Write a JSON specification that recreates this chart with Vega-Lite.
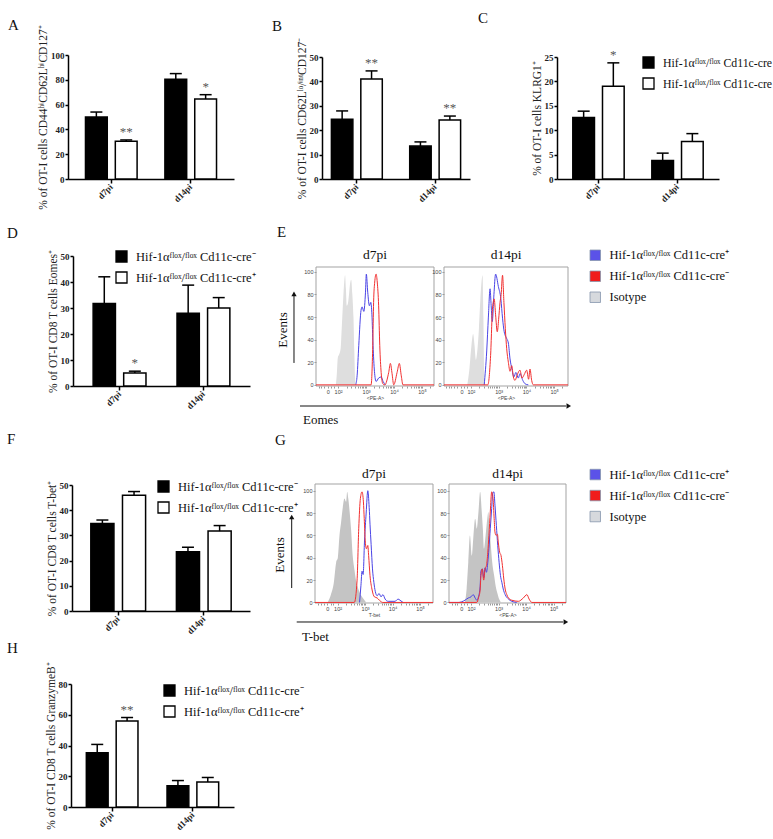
{
  "$schema": "https://vega.github.io/schema/vega-lite/v6.json",
  "background": "white",
  "padding": {"left": 7, "top": 10, "right": 0, "bottom": 0},
  "columns": 4,
  "align": "none",
  "bounds": "flush",
  "spacing": {"row": 73, "column": 0},
  "config": {
    "font": "Liberation Serif",
    "view": {"stroke": null},
    "axis": {"grid": false, "labelOverlap": false, "domainColor": "black", "tickColor": "black", "labelColor": "#222", "titleColor": "#222", "labelFont": "Liberation Serif", "titleFont": "Liberation Serif", "titleFontWeight": "normal"},
    "axisBand": {"domainWidth": 1.5, "tickWidth": 1.5, "tickSize": 4, "labelAngle": -45, "labelAlign": "right", "labelBaseline": "middle", "labelFontSize": 9, "labelFontWeight": "bold", "labelPadding": 2},
    "axisQuantitative": {"domainWidth": 1.5, "tickWidth": 1.5, "tickSize": 3, "labelFontSize": 9, "labelFontWeight": "bold", "labelPadding": 1, "titleFontSize": 11.5, "titlePadding": 2, "format": "d"},
    "legend": {"orient": "none", "padding": 0, "symbolType": "square", "symbolSize": 121, "labelFont": "Liberation Serif", "labelFontSize": 12.5, "labelColor": "#111", "labelOffset": 8, "rowPadding": 4, "labelLimit": 0},
    "title": {"font": "Liberation Serif", "fontSize": 15, "fontWeight": "normal", "color": "#111", "anchor": "start", "frame": "group", "offset": 0},
    "text": {"font": "Liberation Serif"}
  },
  "resolve": {
    "scale": {"color": "independent", "fill": "independent", "stroke": "independent", "xOffset": "independent"},
    "legend": {"color": "independent", "fill": "independent", "stroke": "independent"}
  },
  "datasets": {
    "bars": [
      {"panel": "A", "day": "d7pi", "group": "cre-", "value": 50, "hi": 54, "sig": ""},
      {"panel": "A", "day": "d7pi", "group": "cre+", "value": 30.5, "hi": 31.5, "sig": "**"},
      {"panel": "A", "day": "d14pi", "group": "cre-", "value": 80.5, "hi": 85, "sig": ""},
      {"panel": "A", "day": "d14pi", "group": "cre+", "value": 64.5, "hi": 68, "sig": "*"},
      {"panel": "B", "day": "d7pi", "group": "cre-", "value": 24.5, "hi": 27.9, "sig": ""},
      {"panel": "B", "day": "d7pi", "group": "cre+", "value": 41, "hi": 44.3, "sig": "**"},
      {"panel": "B", "day": "d14pi", "group": "cre-", "value": 13.5, "hi": 15.2, "sig": ""},
      {"panel": "B", "day": "d14pi", "group": "cre+", "value": 24.2, "hi": 25.8, "sig": "**"},
      {"panel": "C", "day": "d7pi", "group": "cre-", "value": 12.6, "hi": 13.9, "sig": ""},
      {"panel": "C", "day": "d7pi", "group": "cre+", "value": 19, "hi": 23.8, "sig": "*"},
      {"panel": "C", "day": "d14pi", "group": "cre-", "value": 3.8, "hi": 5.3, "sig": ""},
      {"panel": "C", "day": "d14pi", "group": "cre+", "value": 7.7, "hi": 9.3, "sig": ""},
      {"panel": "D", "day": "d7pi", "group": "cre-", "value": 31.7, "hi": 42, "sig": ""},
      {"panel": "D", "day": "d7pi", "group": "cre+", "value": 5, "hi": 5.7, "sig": "*"},
      {"panel": "D", "day": "d14pi", "group": "cre-", "value": 28, "hi": 38.8, "sig": ""},
      {"panel": "D", "day": "d14pi", "group": "cre+", "value": 30, "hi": 34, "sig": ""},
      {"panel": "F", "day": "d7pi", "group": "cre-", "value": 34.7, "hi": 36.1, "sig": ""},
      {"panel": "F", "day": "d7pi", "group": "cre+", "value": 45.9, "hi": 47.4, "sig": ""},
      {"panel": "F", "day": "d14pi", "group": "cre-", "value": 23.5, "hi": 25.3, "sig": ""},
      {"panel": "F", "day": "d14pi", "group": "cre+", "value": 31.7, "hi": 33.9, "sig": ""},
      {"panel": "H", "day": "d7pi", "group": "cre-", "value": 35.3, "hi": 40.7, "sig": ""},
      {"panel": "H", "day": "d7pi", "group": "cre+", "value": 56, "hi": 58.2, "sig": "**"},
      {"panel": "H", "day": "d14pi", "group": "cre-", "value": 13.9, "hi": 17.2, "sig": ""},
      {"panel": "H", "day": "d14pi", "group": "cre+", "value": 16.3, "hi": 19.2, "sig": ""}
    ],
    "flow": [
      {"panel": "E7", "group": "iso", "u": 1.92, "y": 0}, {"panel": "E7", "group": "iso", "u": 1.95, "y": 8}, {"panel": "E7", "group": "iso", "u": 1.99, "y": 24}, {"panel": "E7", "group": "iso", "u": 2.04, "y": 27}, {"panel": "E7", "group": "iso", "u": 2.09, "y": 32}, {"panel": "E7", "group": "iso", "u": 2.13, "y": 50}, {"panel": "E7", "group": "iso", "u": 2.17, "y": 70}, {"panel": "E7", "group": "iso", "u": 2.21, "y": 88}, {"panel": "E7", "group": "iso", "u": 2.25, "y": 97}, {"panel": "E7", "group": "iso", "u": 2.28, "y": 85}, {"panel": "E7", "group": "iso", "u": 2.31, "y": 70}, {"panel": "E7", "group": "iso", "u": 2.35, "y": 72}, {"panel": "E7", "group": "iso", "u": 2.39, "y": 80}, {"panel": "E7", "group": "iso", "u": 2.43, "y": 90}, {"panel": "E7", "group": "iso", "u": 2.47, "y": 93}, {"panel": "E7", "group": "iso", "u": 2.51, "y": 80}, {"panel": "E7", "group": "iso", "u": 2.55, "y": 60}, {"panel": "E7", "group": "iso", "u": 2.58, "y": 30}, {"panel": "E7", "group": "iso", "u": 2.61, "y": 5}, {"panel": "E7", "group": "iso", "u": 2.63, "y": 0},
      {"panel": "E7", "group": "cre+", "u": 2.63, "y": 0}, {"panel": "E7", "group": "cre+", "u": 2.68, "y": 8}, {"panel": "E7", "group": "cre+", "u": 2.74, "y": 35}, {"panel": "E7", "group": "cre+", "u": 2.82, "y": 66}, {"panel": "E7", "group": "cre+", "u": 2.86, "y": 69}, {"panel": "E7", "group": "cre+", "u": 2.92, "y": 65}, {"panel": "E7", "group": "cre+", "u": 2.98, "y": 82}, {"panel": "E7", "group": "cre+", "u": 3.01, "y": 98}, {"panel": "E7", "group": "cre+", "u": 3.06, "y": 82}, {"panel": "E7", "group": "cre+", "u": 3.12, "y": 70}, {"panel": "E7", "group": "cre+", "u": 3.17, "y": 73}, {"panel": "E7", "group": "cre+", "u": 3.21, "y": 62}, {"panel": "E7", "group": "cre+", "u": 3.25, "y": 35}, {"panel": "E7", "group": "cre+", "u": 3.3, "y": 12}, {"panel": "E7", "group": "cre+", "u": 3.36, "y": 3}, {"panel": "E7", "group": "cre+", "u": 3.45, "y": 6}, {"panel": "E7", "group": "cre+", "u": 3.54, "y": 7}, {"panel": "E7", "group": "cre+", "u": 3.61, "y": 3}, {"panel": "E7", "group": "cre+", "u": 3.69, "y": 0},
      {"panel": "E7", "group": "cre-", "u": 1.21, "y": 0}, {"panel": "E7", "group": "cre-", "u": 3.18, "y": 0}, {"panel": "E7", "group": "cre-", "u": 3.24, "y": 35}, {"panel": "E7", "group": "cre-", "u": 3.27, "y": 73}, {"panel": "E7", "group": "cre-", "u": 3.31, "y": 91}, {"panel": "E7", "group": "cre-", "u": 3.36, "y": 98}, {"panel": "E7", "group": "cre-", "u": 3.4, "y": 91}, {"panel": "E7", "group": "cre-", "u": 3.45, "y": 70}, {"panel": "E7", "group": "cre-", "u": 3.49, "y": 35}, {"panel": "E7", "group": "cre-", "u": 3.54, "y": 11}, {"panel": "E7", "group": "cre-", "u": 3.6, "y": 1}, {"panel": "E7", "group": "cre-", "u": 3.67, "y": 0}, {"panel": "E7", "group": "cre-", "u": 3.81, "y": 11}, {"panel": "E7", "group": "cre-", "u": 3.87, "y": 19}, {"panel": "E7", "group": "cre-", "u": 3.93, "y": 10}, {"panel": "E7", "group": "cre-", "u": 3.99, "y": 0}, {"panel": "E7", "group": "cre-", "u": 4.11, "y": 11}, {"panel": "E7", "group": "cre-", "u": 4.19, "y": 19}, {"panel": "E7", "group": "cre-", "u": 4.26, "y": 8}, {"panel": "E7", "group": "cre-", "u": 4.32, "y": 0}, {"panel": "E7", "group": "cre-", "u": 5.43, "y": 0},
      {"panel": "E14", "group": "iso", "u": 1.87, "y": 0}, {"panel": "E14", "group": "iso", "u": 1.95, "y": 15}, {"panel": "E14", "group": "iso", "u": 2.02, "y": 35}, {"panel": "E14", "group": "iso", "u": 2.08, "y": 45}, {"panel": "E14", "group": "iso", "u": 2.13, "y": 35}, {"panel": "E14", "group": "iso", "u": 2.18, "y": 22}, {"panel": "E14", "group": "iso", "u": 2.23, "y": 30}, {"panel": "E14", "group": "iso", "u": 2.29, "y": 50}, {"panel": "E14", "group": "iso", "u": 2.34, "y": 75}, {"panel": "E14", "group": "iso", "u": 2.4, "y": 95}, {"panel": "E14", "group": "iso", "u": 2.42, "y": 97}, {"panel": "E14", "group": "iso", "u": 2.45, "y": 60}, {"panel": "E14", "group": "iso", "u": 2.48, "y": 10}, {"panel": "E14", "group": "iso", "u": 2.51, "y": 0},
      {"panel": "E14", "group": "cre+", "u": 2.48, "y": 0}, {"panel": "E14", "group": "cre+", "u": 2.57, "y": 30}, {"panel": "E14", "group": "cre+", "u": 2.63, "y": 60}, {"panel": "E14", "group": "cre+", "u": 2.69, "y": 85}, {"panel": "E14", "group": "cre+", "u": 2.73, "y": 70}, {"panel": "E14", "group": "cre+", "u": 2.77, "y": 56}, {"panel": "E14", "group": "cre+", "u": 2.83, "y": 80}, {"panel": "E14", "group": "cre+", "u": 2.89, "y": 98}, {"panel": "E14", "group": "cre+", "u": 2.99, "y": 87}, {"panel": "E14", "group": "cre+", "u": 3.08, "y": 76}, {"panel": "E14", "group": "cre+", "u": 3.14, "y": 59}, {"panel": "E14", "group": "cre+", "u": 3.2, "y": 47}, {"panel": "E14", "group": "cre+", "u": 3.29, "y": 41}, {"panel": "E14", "group": "cre+", "u": 3.35, "y": 37}, {"panel": "E14", "group": "cre+", "u": 3.41, "y": 23}, {"panel": "E14", "group": "cre+", "u": 3.48, "y": 14}, {"panel": "E14", "group": "cre+", "u": 3.55, "y": 7}, {"panel": "E14", "group": "cre+", "u": 3.62, "y": 11}, {"panel": "E14", "group": "cre+", "u": 3.71, "y": 6}, {"panel": "E14", "group": "cre+", "u": 3.77, "y": 10}, {"panel": "E14", "group": "cre+", "u": 3.87, "y": 4}, {"panel": "E14", "group": "cre+", "u": 3.95, "y": 1}, {"panel": "E14", "group": "cre+", "u": 4.07, "y": 0},
      {"panel": "E14", "group": "cre-", "u": 1.03, "y": 0}, {"panel": "E14", "group": "cre-", "u": 2.61, "y": 0}, {"panel": "E14", "group": "cre-", "u": 2.71, "y": 26}, {"panel": "E14", "group": "cre-", "u": 2.78, "y": 68}, {"panel": "E14", "group": "cre-", "u": 2.84, "y": 76}, {"panel": "E14", "group": "cre-", "u": 2.89, "y": 62}, {"panel": "E14", "group": "cre-", "u": 2.95, "y": 47}, {"panel": "E14", "group": "cre-", "u": 3.0, "y": 58}, {"panel": "E14", "group": "cre-", "u": 3.05, "y": 73}, {"panel": "E14", "group": "cre-", "u": 3.09, "y": 80}, {"panel": "E14", "group": "cre-", "u": 3.14, "y": 97}, {"panel": "E14", "group": "cre-", "u": 3.19, "y": 73}, {"panel": "E14", "group": "cre-", "u": 3.24, "y": 50}, {"panel": "E14", "group": "cre-", "u": 3.29, "y": 32}, {"panel": "E14", "group": "cre-", "u": 3.35, "y": 20}, {"panel": "E14", "group": "cre-", "u": 3.41, "y": 12}, {"panel": "E14", "group": "cre-", "u": 3.47, "y": 17}, {"panel": "E14", "group": "cre-", "u": 3.53, "y": 7}, {"panel": "E14", "group": "cre-", "u": 3.59, "y": 4}, {"panel": "E14", "group": "cre-", "u": 3.67, "y": 9}, {"panel": "E14", "group": "cre-", "u": 3.77, "y": 13}, {"panel": "E14", "group": "cre-", "u": 3.84, "y": 6}, {"panel": "E14", "group": "cre-", "u": 3.92, "y": 9}, {"panel": "E14", "group": "cre-", "u": 4.01, "y": 13}, {"panel": "E14", "group": "cre-", "u": 4.08, "y": 5}, {"panel": "E14", "group": "cre-", "u": 4.13, "y": 14}, {"panel": "E14", "group": "cre-", "u": 4.19, "y": 4}, {"panel": "E14", "group": "cre-", "u": 4.25, "y": 0}, {"panel": "E14", "group": "cre-", "u": 5.5, "y": 0},
      {"panel": "G7", "group": "iso", "u": 1.64, "y": 0}, {"panel": "G7", "group": "iso", "u": 1.76, "y": 7}, {"panel": "G7", "group": "iso", "u": 1.86, "y": 17}, {"panel": "G7", "group": "iso", "u": 1.95, "y": 36}, {"panel": "G7", "group": "iso", "u": 2.01, "y": 40}, {"panel": "G7", "group": "iso", "u": 2.07, "y": 60}, {"panel": "G7", "group": "iso", "u": 2.13, "y": 72}, {"panel": "G7", "group": "iso", "u": 2.19, "y": 85}, {"panel": "G7", "group": "iso", "u": 2.25, "y": 93}, {"panel": "G7", "group": "iso", "u": 2.31, "y": 90}, {"panel": "G7", "group": "iso", "u": 2.35, "y": 99}, {"panel": "G7", "group": "iso", "u": 2.39, "y": 93}, {"panel": "G7", "group": "iso", "u": 2.44, "y": 81}, {"panel": "G7", "group": "iso", "u": 2.49, "y": 66}, {"panel": "G7", "group": "iso", "u": 2.55, "y": 42}, {"panel": "G7", "group": "iso", "u": 2.61, "y": 30}, {"panel": "G7", "group": "iso", "u": 2.67, "y": 20}, {"panel": "G7", "group": "iso", "u": 2.73, "y": 14}, {"panel": "G7", "group": "iso", "u": 2.82, "y": 8}, {"panel": "G7", "group": "iso", "u": 2.92, "y": 4}, {"panel": "G7", "group": "iso", "u": 3.04, "y": 0},
      {"panel": "G7", "group": "cre+", "u": 2.8, "y": 0}, {"panel": "G7", "group": "cre+", "u": 2.85, "y": 15}, {"panel": "G7", "group": "cre+", "u": 2.89, "y": 28}, {"panel": "G7", "group": "cre+", "u": 2.93, "y": 25}, {"panel": "G7", "group": "cre+", "u": 2.98, "y": 55}, {"panel": "G7", "group": "cre+", "u": 3.04, "y": 80}, {"panel": "G7", "group": "cre+", "u": 3.1, "y": 100}, {"panel": "G7", "group": "cre+", "u": 3.15, "y": 85}, {"panel": "G7", "group": "cre+", "u": 3.18, "y": 70}, {"panel": "G7", "group": "cre+", "u": 3.22, "y": 52}, {"panel": "G7", "group": "cre+", "u": 3.27, "y": 30}, {"panel": "G7", "group": "cre+", "u": 3.32, "y": 18}, {"panel": "G7", "group": "cre+", "u": 3.37, "y": 10}, {"panel": "G7", "group": "cre+", "u": 3.44, "y": 6}, {"panel": "G7", "group": "cre+", "u": 3.51, "y": 8}, {"panel": "G7", "group": "cre+", "u": 3.58, "y": 5}, {"panel": "G7", "group": "cre+", "u": 3.65, "y": 7}, {"panel": "G7", "group": "cre+", "u": 3.73, "y": 3}, {"panel": "G7", "group": "cre+", "u": 3.84, "y": 1}, {"panel": "G7", "group": "cre+", "u": 4.09, "y": 1}, {"panel": "G7", "group": "cre+", "u": 4.2, "y": 3}, {"panel": "G7", "group": "cre+", "u": 4.27, "y": 2}, {"panel": "G7", "group": "cre+", "u": 4.38, "y": 0},
      {"panel": "G7", "group": "cre-", "u": 1.18, "y": 0}, {"panel": "G7", "group": "cre-", "u": 2.61, "y": 0}, {"panel": "G7", "group": "cre-", "u": 2.71, "y": 20}, {"panel": "G7", "group": "cre-", "u": 2.77, "y": 66}, {"panel": "G7", "group": "cre-", "u": 2.83, "y": 93}, {"panel": "G7", "group": "cre-", "u": 2.89, "y": 99}, {"panel": "G7", "group": "cre-", "u": 2.94, "y": 90}, {"panel": "G7", "group": "cre-", "u": 2.97, "y": 75}, {"panel": "G7", "group": "cre-", "u": 3.01, "y": 54}, {"panel": "G7", "group": "cre-", "u": 3.05, "y": 48}, {"panel": "G7", "group": "cre-", "u": 3.1, "y": 51}, {"panel": "G7", "group": "cre-", "u": 3.13, "y": 42}, {"panel": "G7", "group": "cre-", "u": 3.18, "y": 24}, {"panel": "G7", "group": "cre-", "u": 3.25, "y": 12}, {"panel": "G7", "group": "cre-", "u": 3.34, "y": 5}, {"panel": "G7", "group": "cre-", "u": 3.44, "y": 4}, {"panel": "G7", "group": "cre-", "u": 3.52, "y": 2}, {"panel": "G7", "group": "cre-", "u": 3.64, "y": 0}, {"panel": "G7", "group": "cre-", "u": 5.47, "y": 0},
      {"panel": "G14", "group": "iso", "u": 1.78, "y": 0}, {"panel": "G14", "group": "iso", "u": 1.84, "y": 12}, {"panel": "G14", "group": "iso", "u": 1.9, "y": 36}, {"panel": "G14", "group": "iso", "u": 1.96, "y": 60}, {"panel": "G14", "group": "iso", "u": 2.03, "y": 42}, {"panel": "G14", "group": "iso", "u": 2.08, "y": 57}, {"panel": "G14", "group": "iso", "u": 2.15, "y": 75}, {"panel": "G14", "group": "iso", "u": 2.21, "y": 66}, {"panel": "G14", "group": "iso", "u": 2.27, "y": 81}, {"panel": "G14", "group": "iso", "u": 2.33, "y": 99}, {"panel": "G14", "group": "iso", "u": 2.39, "y": 81}, {"panel": "G14", "group": "iso", "u": 2.43, "y": 66}, {"panel": "G14", "group": "iso", "u": 2.47, "y": 48}, {"panel": "G14", "group": "iso", "u": 2.53, "y": 60}, {"panel": "G14", "group": "iso", "u": 2.59, "y": 75}, {"panel": "G14", "group": "iso", "u": 2.63, "y": 81}, {"panel": "G14", "group": "iso", "u": 2.67, "y": 66}, {"panel": "G14", "group": "iso", "u": 2.72, "y": 51}, {"panel": "G14", "group": "iso", "u": 2.77, "y": 36}, {"panel": "G14", "group": "iso", "u": 2.84, "y": 24}, {"panel": "G14", "group": "iso", "u": 2.9, "y": 14}, {"panel": "G14", "group": "iso", "u": 2.96, "y": 8}, {"panel": "G14", "group": "iso", "u": 3.02, "y": 3}, {"panel": "G14", "group": "iso", "u": 3.09, "y": 0},
      {"panel": "G14", "group": "cre+", "u": 1.2, "y": 0}, {"panel": "G14", "group": "cre+", "u": 1.54, "y": 0}, {"panel": "G14", "group": "cre+", "u": 1.78, "y": 2}, {"panel": "G14", "group": "cre+", "u": 1.9, "y": 4}, {"panel": "G14", "group": "cre+", "u": 2.0, "y": 5}, {"panel": "G14", "group": "cre+", "u": 2.08, "y": 7}, {"panel": "G14", "group": "cre+", "u": 2.15, "y": 4}, {"panel": "G14", "group": "cre+", "u": 2.21, "y": 2}, {"panel": "G14", "group": "cre+", "u": 2.27, "y": 5}, {"panel": "G14", "group": "cre+", "u": 2.33, "y": 14}, {"panel": "G14", "group": "cre+", "u": 2.36, "y": 28}, {"panel": "G14", "group": "cre+", "u": 2.41, "y": 30}, {"panel": "G14", "group": "cre+", "u": 2.46, "y": 22}, {"panel": "G14", "group": "cre+", "u": 2.51, "y": 31}, {"panel": "G14", "group": "cre+", "u": 2.56, "y": 27}, {"panel": "G14", "group": "cre+", "u": 2.61, "y": 36}, {"panel": "G14", "group": "cre+", "u": 2.65, "y": 48}, {"panel": "G14", "group": "cre+", "u": 2.7, "y": 66}, {"panel": "G14", "group": "cre+", "u": 2.75, "y": 84}, {"panel": "G14", "group": "cre+", "u": 2.79, "y": 98}, {"panel": "G14", "group": "cre+", "u": 2.83, "y": 99}, {"panel": "G14", "group": "cre+", "u": 2.87, "y": 87}, {"panel": "G14", "group": "cre+", "u": 2.92, "y": 69}, {"panel": "G14", "group": "cre+", "u": 2.97, "y": 51}, {"panel": "G14", "group": "cre+", "u": 3.02, "y": 36}, {"panel": "G14", "group": "cre+", "u": 3.07, "y": 24}, {"panel": "G14", "group": "cre+", "u": 3.12, "y": 18}, {"panel": "G14", "group": "cre+", "u": 3.17, "y": 12}, {"panel": "G14", "group": "cre+", "u": 3.24, "y": 7}, {"panel": "G14", "group": "cre+", "u": 3.36, "y": 3}, {"panel": "G14", "group": "cre+", "u": 3.48, "y": 1}, {"panel": "G14", "group": "cre+", "u": 3.66, "y": 0},
      {"panel": "G14", "group": "cre-", "u": 1.2, "y": 0}, {"panel": "G14", "group": "cre-", "u": 2.21, "y": 0}, {"panel": "G14", "group": "cre-", "u": 2.27, "y": 4}, {"panel": "G14", "group": "cre-", "u": 2.33, "y": 11}, {"panel": "G14", "group": "cre-", "u": 2.36, "y": 24}, {"panel": "G14", "group": "cre-", "u": 2.41, "y": 30}, {"panel": "G14", "group": "cre-", "u": 2.46, "y": 20}, {"panel": "G14", "group": "cre-", "u": 2.51, "y": 30}, {"panel": "G14", "group": "cre-", "u": 2.56, "y": 33}, {"panel": "G14", "group": "cre-", "u": 2.61, "y": 45}, {"panel": "G14", "group": "cre-", "u": 2.65, "y": 60}, {"panel": "G14", "group": "cre-", "u": 2.7, "y": 81}, {"panel": "G14", "group": "cre-", "u": 2.75, "y": 99}, {"panel": "G14", "group": "cre-", "u": 2.8, "y": 93}, {"panel": "G14", "group": "cre-", "u": 2.84, "y": 75}, {"panel": "G14", "group": "cre-", "u": 2.87, "y": 63}, {"panel": "G14", "group": "cre-", "u": 2.91, "y": 60}, {"panel": "G14", "group": "cre-", "u": 2.96, "y": 61}, {"panel": "G14", "group": "cre-", "u": 2.99, "y": 54}, {"panel": "G14", "group": "cre-", "u": 3.04, "y": 45}, {"panel": "G14", "group": "cre-", "u": 3.09, "y": 42}, {"panel": "G14", "group": "cre-", "u": 3.14, "y": 33}, {"panel": "G14", "group": "cre-", "u": 3.19, "y": 21}, {"panel": "G14", "group": "cre-", "u": 3.24, "y": 12}, {"panel": "G14", "group": "cre-", "u": 3.3, "y": 7}, {"panel": "G14", "group": "cre-", "u": 3.36, "y": 4}, {"panel": "G14", "group": "cre-", "u": 3.48, "y": 2}, {"panel": "G14", "group": "cre-", "u": 3.72, "y": 1}, {"panel": "G14", "group": "cre-", "u": 3.9, "y": 4}, {"panel": "G14", "group": "cre-", "u": 4.03, "y": 7}, {"panel": "G14", "group": "cre-", "u": 4.11, "y": 3}, {"panel": "G14", "group": "cre-", "u": 4.21, "y": 0}, {"panel": "G14", "group": "cre-", "u": 5.45, "y": 0}
    ]
  },
  "concat": [
    {
      "width": 248, "height": 124,
      "title": {"text": "A", "dx": -62, "dy": 12},
      "data": {"name": "bars"},
      "transform": [{"filter": "datum.panel == 'A'"}],
      "encoding": {
        "x": {"field": "day", "type": "nominal", "sort": ["d7pi", "d14pi"], "title": null, "scale": {"range": [-2, 164], "paddingInner": 0.35, "paddingOuter": 0.22}},
        "xOffset": {"field": "group", "type": "nominal", "sort": ["cre-", "cre+"], "scale": {"paddingInner": 0.27, "paddingOuter": 0}}
      },
      "layer": [
        {"mark": {"type": "bar", "stroke": "black", "strokeWidth": 1.5, "opacity": 1},
         "encoding": {
           "y": {"field": "value", "type": "quantitative", "stack": null, "scale": {"domain": [0, 100], "nice": false}, "axis": {"title": "% of OT-I cells CD44ʰⁱCD62LʰⁱCD127⁺", "values": [0, 20, 40, 60, 80, 100], "tickCount": 50, "format": "d", "labelOverlap": false, "offset": 2}},
           "color": {"field": "group", "type": "nominal", "scale": {"domain": ["cre-", "cre+"], "range": ["black", "white"]}, "legend": null}}},
        {"mark": {"type": "rule", "color": "black", "strokeWidth": 1.5},
         "encoding": {"y": {"field": "value", "type": "quantitative", "scale": {"domain": [0, 100], "nice": false}}, "y2": {"field": "hi"}}},
        {"mark": {"type": "tick", "color": "black", "thickness": 1.5, "size": 12, "opacity": 1},
         "encoding": {"y": {"field": "hi", "type": "quantitative", "scale": {"domain": [0, 100], "nice": false}}}},
        {"mark": {"type": "text", "baseline": "bottom", "dy": -1, "fontSize": 13, "color": "#555"},
         "encoding": {"y": {"field": "hi", "type": "quantitative", "scale": {"domain": [0, 100], "nice": false}}, "text": {"field": "sig"}}}
      ]
    },
    {
      "width": 128, "height": 124,
      "title": {"text": "B", "dx": -46, "dy": 0.5},
      "data": {"name": "bars"},
      "transform": [{"filter": "datum.panel == 'B'"}],
      "encoding": {
        "x": {"field": "day", "type": "nominal", "sort": ["d7pi", "d14pi"], "title": null, "scale": {"range": [4, 152], "paddingInner": 0.35, "paddingOuter": 0.12}},
        "xOffset": {"field": "group", "type": "nominal", "sort": ["cre-", "cre+"], "scale": {"paddingInner": 0.27, "paddingOuter": 0}}
      },
      "layer": [
        {"mark": {"type": "bar", "stroke": "black", "strokeWidth": 1.5, "opacity": 1},
         "encoding": {
           "y": {"field": "value", "type": "quantitative", "stack": null, "scale": {"domain": [0, 50], "nice": false, "range": [124, 2]}, "axis": {"title": "% of OT-I cells CD62Lˡᵒ/ⁱⁿᵗCD127⁻", "values": [0, 10, 20, 30, 40, 50], "tickCount": 50, "format": "d", "labelOverlap": false, "offset": -4}},
           "color": {"field": "group", "type": "nominal", "scale": {"domain": ["cre-", "cre+"], "range": ["black", "white"]}, "legend": null}}},
        {"mark": {"type": "rule", "color": "black", "strokeWidth": 1.5},
         "encoding": {"y": {"field": "value", "type": "quantitative", "scale": {"domain": [0, 50], "nice": false, "range": [124, 2]}}, "y2": {"field": "hi"}}},
        {"mark": {"type": "tick", "color": "black", "thickness": 1.5, "size": 12, "opacity": 1},
         "encoding": {"y": {"field": "hi", "type": "quantitative", "scale": {"domain": [0, 50], "nice": false, "range": [124, 2]}}}},
        {"mark": {"type": "text", "baseline": "bottom", "dy": -1, "fontSize": 13, "color": "#555"},
         "encoding": {"y": {"field": "hi", "type": "quantitative", "scale": {"domain": [0, 50], "nice": false, "range": [124, 2]}}, "text": {"field": "sig"}}}
      ]
    },
    {"width": 111, "height": 1, "data": {"values": []}, "mark": "point"},
    {
      "width": 162, "height": 124,
      "title": {"text": "C", "dx": -79, "dy": -19},
      "data": {"name": "bars"},
      "transform": [{"filter": "datum.panel == 'C'"}],
      "encoding": {
        "x": {"field": "day", "type": "nominal", "sort": ["d7pi", "d14pi"], "title": null, "scale": {"paddingInner": 0.35, "paddingOuter": 0.2}},
        "xOffset": {"field": "group", "type": "nominal", "sort": ["cre-", "cre+"], "scale": {"paddingInner": 0.27, "paddingOuter": 0}}
      },
      "layer": [
        {"mark": {"type": "bar", "stroke": "black", "strokeWidth": 1.5, "opacity": 1},
         "encoding": {
           "y": {"field": "value", "type": "quantitative", "stack": null, "scale": {"domain": [0, 25], "nice": false, "range": [124, 2]}, "axis": {"title": "% of OT-I cells KLRG1⁺", "values": [0, 5, 10, 15, 20, 25], "tickCount": 50, "format": "d", "labelOverlap": false}},
           "color": {"field": "group", "type": "nominal", "scale": {"domain": ["cre-", "cre+"], "range": ["black", "white"]},
                     "legend": {"legendX": 85, "legendY": 1, "title": null, "symbolStrokeColor": "black", "symbolStrokeWidth": 1.3, "labelFontSize": 11.8, "labelExpr": "'Hif-1αᶠˡᵒˣ/ᶠˡᵒˣ Cd11c-cre'"}}}},
        {"mark": {"type": "rule", "color": "black", "strokeWidth": 1.5},
         "encoding": {"y": {"field": "value", "type": "quantitative", "scale": {"domain": [0, 25], "nice": false, "range": [124, 2]}}, "y2": {"field": "hi"}}},
        {"mark": {"type": "tick", "color": "black", "thickness": 1.5, "size": 12, "opacity": 1},
         "encoding": {"y": {"field": "hi", "type": "quantitative", "scale": {"domain": [0, 25], "nice": false, "range": [124, 2]}}}},
        {"mark": {"type": "text", "baseline": "bottom", "dy": -1, "fontSize": 13, "color": "#555"},
         "encoding": {"y": {"field": "hi", "type": "quantitative", "scale": {"domain": [0, 25], "nice": false, "range": [124, 2]}}, "text": {"field": "sig"}}}
      ]
    },
    {
      "width": 248, "height": 134,
      "title": {"text": "D", "dx": -63, "dy": -4},
      "data": {"name": "bars"},
      "transform": [{"filter": "datum.panel == 'D'"}],
      "encoding": {
        "x": {"field": "day", "type": "nominal", "sort": ["d7pi", "d14pi"], "title": null, "scale": {"range": [3, 180], "paddingInner": 0.37, "paddingOuter": 0.24}},
        "xOffset": {"field": "group", "type": "nominal", "sort": ["cre-", "cre+"], "scale": {"paddingInner": 0.27, "paddingOuter": 0}}
      },
      "layer": [
        {"mark": {"type": "bar", "stroke": "black", "strokeWidth": 1.5, "opacity": 1},
         "encoding": {
           "y": {"field": "value", "type": "quantitative", "stack": null, "scale": {"domain": [0, 50], "nice": false, "range": [134, 4]}, "axis": {"title": "% of OT-I CD8 T cells Eomes⁺", "values": [0, 10, 20, 30, 40, 50], "tickCount": 50, "format": "d", "labelOverlap": false, "offset": -3}},
           "color": {"field": "group", "type": "nominal", "scale": {"domain": ["cre-", "cre+"], "range": ["black", "white"]},
                     "legend": {"legendX": 45, "legendY": -2, "title": null, "symbolStrokeColor": "black", "symbolStrokeWidth": 1.3, "labelExpr": "datum.value == 'cre-' ? 'Hif-1αᶠˡᵒˣ/ᶠˡᵒˣ Cd11c-cre⁻' : 'Hif-1αᶠˡᵒˣ/ᶠˡᵒˣ Cd11c-cre⁺'"}}}},
        {"mark": {"type": "rule", "color": "black", "strokeWidth": 1.5},
         "encoding": {"y": {"field": "value", "type": "quantitative", "scale": {"domain": [0, 50], "nice": false, "range": [134, 4]}}, "y2": {"field": "hi"}}},
        {"mark": {"type": "tick", "color": "black", "thickness": 1.5, "size": 12, "opacity": 1},
         "encoding": {"y": {"field": "hi", "type": "quantitative", "scale": {"domain": [0, 50], "nice": false, "range": [134, 4]}}}},
        {"mark": {"type": "text", "baseline": "bottom", "dy": -1, "fontSize": 13, "color": "#555"},
         "encoding": {"y": {"field": "hi", "type": "quantitative", "scale": {"domain": [0, 50], "nice": false, "range": [134, 4]}}, "text": {"field": "sig"}}}
      ]
    },
    {
      "width": 128, "height": 134,
      "layer": [
        {"data": {"values": [{}]}, "mark": {"type": "rect", "filled": false, "color": "#a3a3a3", "strokeWidth": 1},
         "encoding": {
           "x": {"datum": 1.21, "type": "quantitative", "scale": {"domain": [1.21, 5.43], "range": [-2, 116], "nice": false, "zero": false},
                 "axis": {"title": "<PE-A>", "values": [1.3, 1.4, 1.5, 1.63, 1.75, 1.85, 2, 2.301, 2.477, 2.602, 2.699, 2.778, 2.845, 2.903, 2.954, 3, 3.301, 3.477, 3.602, 3.699, 3.778, 3.845, 3.903, 3.954, 4, 4.301, 4.477, 4.602, 4.699, 4.778, 4.845, 4.903, 4.954, 5, 5.301], "tickCount": 100, "labelExpr": "datum.value == 1.63 ? '0' : datum.value == 2 ? '10²' : datum.value == 3 ? '10³' : datum.value == 4 ? '10⁴' : datum.value == 5 ? '10⁵' : ''", "domain": false, "tickSize": 2, "tickWidth": 0.6, "tickColor": "#555", "labelFontSize": 5.5, "labelFontWeight": "normal", "labelFont": "Liberation Sans", "labelColor": "#444", "labelPadding": 1, "labelOverlap": false, "labelFlush": false, "titleFontSize": 5, "titleFont": "Liberation Sans", "titlePadding": 1, "titleColor": "#444"}},
           "x2": {"datum": 5.43},
           "y": {"datum": -1, "type": "quantitative", "scale": {"domain": [-1, 104.3], "range": [134, 15], "nice": false, "zero": false},
                 "axis": {"title": null, "values": [0, 20, 40, 60, 80, 100], "tickCount": 50, "format": "d", "labelOverlap": false, "offset": 2, "domain": false, "tickSize": 2, "tickWidth": 0.6, "tickColor": "#555", "labelFontSize": 5.5, "labelFontWeight": "normal", "labelFont": "Liberation Sans", "labelColor": "#444", "labelPadding": 1}},
           "y2": {"datum": 104.3}}},
        {"data": {"name": "flow"}, "transform": [{"filter": "datum.panel == 'E7' && datum.group == 'iso'"}],
         "mark": {"type": "area", "color": "#dedede", "interpolate": "monotone"},
         "encoding": {
           "x": {"field": "u", "type": "quantitative", "scale": {"domain": [1.21, 5.43], "range": [-2, 116], "nice": false, "zero": false}},
           "y": {"field": "y", "type": "quantitative", "scale": {"domain": [-1, 104.3], "range": [134, 15], "nice": false, "zero": false}}}},
        {"data": {"name": "flow"}, "transform": [{"filter": "datum.panel == 'E7' && datum.group != 'iso'"}],
         "mark": {"type": "line", "strokeWidth": 1, "interpolate": "monotone"},
         "encoding": {
           "x": {"field": "u", "type": "quantitative", "scale": {"domain": [1.21, 5.43], "range": [-2, 116], "nice": false, "zero": false}},
           "y": {"field": "y", "type": "quantitative", "scale": {"domain": [-1, 104.3], "range": [134, 15], "nice": false, "zero": false}},
           "stroke": {"field": "group", "type": "nominal", "scale": {"domain": ["cre+", "cre-"], "range": ["#4a44e6", "#f23030"]}, "legend": null}}},
        {"data": {"values": [{}]}, "mark": {"type": "rule", "color": "#111", "strokeWidth": 1},
         "encoding": {
           "x": {"datum": 0.423, "type": "quantitative", "scale": {"domain": [1.21, 5.43], "range": [-2, 116], "nice": false, "zero": false}},
           "y": {"datum": 19.4, "type": "quantitative", "scale": {"domain": [-1, 104.3], "range": [134, 15], "nice": false, "zero": false}},
           "y2": {"datum": 79}}},
        {"data": {"values": [{}]}, "mark": {"type": "rule", "color": "#111", "strokeWidth": 1},
         "encoding": {
           "x": {"datum": 0.638, "type": "quantitative", "scale": {"domain": [1.21, 5.43], "range": [-2, 116], "nice": false, "zero": false}},
           "x2": {"datum": 10.15},
           "y": {"datum": -18.7, "type": "quantitative", "scale": {"domain": [-1, 104.3], "range": [134, 15], "nice": false, "zero": false}}}},
        {"data": {"values": [{}]}, "mark": {"type": "point", "shape": "triangle-up", "filled": true, "color": "#111", "size": 28, "opacity": 1},
         "encoding": {
           "x": {"datum": 0.423, "type": "quantitative", "scale": {"domain": [1.21, 5.43], "range": [-2, 116], "nice": false, "zero": false}},
           "y": {"datum": 80.5, "type": "quantitative", "scale": {"domain": [-1, 104.3], "range": [134, 15], "nice": false, "zero": false}}}},
        {"data": {"values": [{}]}, "mark": {"type": "point", "shape": "triangle-right", "filled": true, "color": "#111", "size": 28, "opacity": 1},
         "encoding": {
           "x": {"datum": 10.25, "type": "quantitative", "scale": {"domain": [1.21, 5.43], "range": [-2, 116], "nice": false, "zero": false}},
           "y": {"datum": -18.7, "type": "quantitative", "scale": {"domain": [-1, 104.3], "range": [134, 15], "nice": false, "zero": false}}}},
        {"data": {"values": [{}]}, "mark": {"type": "text", "text": "Events", "angle": 270, "fontSize": 13, "align": "center", "baseline": "middle", "color": "#111"},
         "encoding": {
           "x": {"datum": 0.03, "type": "quantitative", "scale": {"domain": [1.21, 5.43], "range": [-2, 116], "nice": false, "zero": false}},
           "y": {"datum": 48.6, "type": "quantitative", "scale": {"domain": [-1, 104.3], "range": [134, 15], "nice": false, "zero": false}}}},
        {"data": {"values": [{}]}, "mark": {"type": "text", "text": "Eomes", "fontSize": 13, "align": "left", "baseline": "alphabetic", "color": "#111"},
         "encoding": {
           "x": {"datum": 0.745, "type": "quantitative", "scale": {"domain": [1.21, 5.43], "range": [-2, 116], "nice": false, "zero": false}},
           "y": {"datum": -34.6, "type": "quantitative", "scale": {"domain": [-1, 104.3], "range": [134, 15], "nice": false, "zero": false}}}},
        {"data": {"values": [{}]}, "mark": {"type": "text", "text": "E", "fontSize": 15, "align": "left", "baseline": "alphabetic", "color": "#111"},
         "encoding": {
           "x": {"datum": -0.185, "type": "quantitative", "scale": {"domain": [1.21, 5.43], "range": [-2, 116], "nice": false, "zero": false}},
           "y": {"datum": 130.9, "type": "quantitative", "scale": {"domain": [-1, 104.3], "range": [134, 15], "nice": false, "zero": false}}}},
        {"data": {"values": [{}]}, "mark": {"type": "text", "text": "d7pi", "fontSize": 13.5, "align": "center", "baseline": "alphabetic", "color": "#111"},
         "encoding": {
           "x": {"datum": 3.32, "type": "quantitative", "scale": {"domain": [1.21, 5.43], "range": [-2, 116], "nice": false, "zero": false}},
           "y": {"datum": 111.4, "type": "quantitative", "scale": {"domain": [-1, 104.3], "range": [134, 15], "nice": false, "zero": false}}}}
      ]
    },
    {
      "width": 111, "height": 134,
      "layer": [
        {"data": {"values": [{}]}, "mark": {"type": "rect", "filled": false, "color": "#a3a3a3", "strokeWidth": 1},
         "encoding": {
           "x": {"datum": 1.03, "type": "quantitative", "scale": {"domain": [1.03, 5.5], "range": [-2, 122], "nice": false, "zero": false},
                 "axis": {"title": "<PE-A>", "values": [1.1, 1.2, 1.3, 1.4, 1.5, 1.66, 1.75, 1.85, 2, 2.301, 2.477, 2.602, 2.699, 2.778, 2.845, 2.903, 2.954, 3, 3.301, 3.477, 3.602, 3.699, 3.778, 3.845, 3.903, 3.954, 4, 4.301, 4.477, 4.602, 4.699, 4.778, 4.845, 4.903, 4.954, 5, 5.301], "tickCount": 100, "labelExpr": "datum.value == 1.66 ? '0' : datum.value == 2 ? '10²' : datum.value == 3 ? '10³' : datum.value == 4 ? '10⁴' : datum.value == 5 ? '10⁵' : ''", "domain": false, "tickSize": 2, "tickWidth": 0.6, "tickColor": "#555", "labelFontSize": 5.5, "labelFontWeight": "normal", "labelFont": "Liberation Sans", "labelColor": "#444", "labelPadding": 1, "labelOverlap": false, "labelFlush": false, "titleFontSize": 5, "titleFont": "Liberation Sans", "titlePadding": 1, "titleColor": "#444"}},
           "x2": {"datum": 5.5},
           "y": {"datum": -1, "type": "quantitative", "scale": {"domain": [-1, 104.3], "range": [134, 15], "nice": false, "zero": false},
                 "axis": {"title": null, "values": [0, 20, 40, 60, 80, 100], "tickCount": 50, "format": "d", "labelOverlap": false, "offset": 2, "domain": false, "tickSize": 2, "tickWidth": 0.6, "tickColor": "#555", "labelFontSize": 5.5, "labelFontWeight": "normal", "labelFont": "Liberation Sans", "labelColor": "#444", "labelPadding": 1}},
           "y2": {"datum": 104.3}}},
        {"data": {"name": "flow"}, "transform": [{"filter": "datum.panel == 'E14' && datum.group == 'iso'"}],
         "mark": {"type": "area", "color": "#dedede", "interpolate": "monotone"},
         "encoding": {
           "x": {"field": "u", "type": "quantitative", "scale": {"domain": [1.03, 5.5], "range": [-2, 122], "nice": false, "zero": false}},
           "y": {"field": "y", "type": "quantitative", "scale": {"domain": [-1, 104.3], "range": [134, 15], "nice": false, "zero": false}}}},
        {"data": {"name": "flow"}, "transform": [{"filter": "datum.panel == 'E14' && datum.group != 'iso'"}],
         "mark": {"type": "line", "strokeWidth": 1, "interpolate": "monotone"},
         "encoding": {
           "x": {"field": "u", "type": "quantitative", "scale": {"domain": [1.03, 5.5], "range": [-2, 122], "nice": false, "zero": false}},
           "y": {"field": "y", "type": "quantitative", "scale": {"domain": [-1, 104.3], "range": [134, 15], "nice": false, "zero": false}},
           "stroke": {"field": "group", "type": "nominal", "scale": {"domain": ["cre+", "cre-"], "range": ["#4a44e6", "#f23030"]}, "legend": null}}},
        {"data": {"values": [{}]}, "mark": {"type": "text", "text": "d14pi", "fontSize": 13.5, "align": "center", "baseline": "alphabetic", "color": "#111"},
         "encoding": {
           "x": {"datum": 3.265, "type": "quantitative", "scale": {"domain": [1.03, 5.5], "range": [-2, 122], "nice": false, "zero": false}},
           "y": {"datum": 111.4, "type": "quantitative", "scale": {"domain": [-1, 104.3], "range": [134, 15], "nice": false, "zero": false}}}},
        {"data": {"values": [{"k": "cre+"}, {"k": "cre-"}, {"k": "iso"}]}, "transform": [{"filter": "false"}],
         "mark": {"type": "square", "opacity": 1, "stroke": "#8596ac", "strokeWidth": 0.8},
         "encoding": {
           "fill": {"field": "k", "type": "nominal", "scale": {"domain": ["cre+", "cre-", "iso"], "range": ["#5b52e8", "#f01c1c", "#d6d9dd"]},
                    "legend": {"legendX": 143, "legendY": -3, "title": null, "symbolStrokeColor": "#8596ac", "symbolStrokeWidth": 0.8, "symbolSize": 110, "rowPadding": 6, "symbolOpacity": 1, "labelExpr": "datum.value == 'cre+' ? 'Hif-1αᶠˡᵒˣ/ᶠˡᵒˣ Cd11c-cre⁺' : datum.value == 'cre-' ? 'Hif-1αᶠˡᵒˣ/ᶠˡᵒˣ Cd11c-cre⁻' : 'Isotype'"}}}}
      ]
    },
    {"width": 1, "height": 1, "data": {"values": []}, "mark": "point"},
    {
      "width": 248, "height": 152,
      "title": {"text": "F", "dx": -63, "dy": -8.5},
      "data": {"name": "bars"},
      "transform": [{"filter": "datum.panel == 'F'"}],
      "encoding": {
        "x": {"field": "day", "type": "nominal", "sort": ["d7pi", "d14pi"], "title": null, "scale": {"range": [2, 180], "paddingInner": 0.36, "paddingOuter": 0.22}},
        "xOffset": {"field": "group", "type": "nominal", "sort": ["cre-", "cre+"], "scale": {"paddingInner": 0.27, "paddingOuter": 0}}
      },
      "layer": [
        {"mark": {"type": "bar", "stroke": "black", "strokeWidth": 1.5, "opacity": 1},
         "encoding": {
           "y": {"field": "value", "type": "quantitative", "stack": null, "scale": {"domain": [0, 50], "nice": false, "range": [152, 26]}, "axis": {"title": "% of OT-I CD8 T cells T-bet⁺", "values": [0, 10, 20, 30, 40, 50], "tickCount": 50, "format": "d", "labelOverlap": false, "offset": -2}},
           "color": {"field": "group", "type": "nominal", "scale": {"domain": ["cre-", "cre+"], "range": ["black", "white"]},
                     "legend": {"legendX": 87, "legendY": 21, "title": null, "symbolStrokeColor": "black", "symbolStrokeWidth": 1.3, "labelExpr": "datum.value == 'cre-' ? 'Hif-1αᶠˡᵒˣ/ᶠˡᵒˣ Cd11c-cre⁻' : 'Hif-1αᶠˡᵒˣ/ᶠˡᵒˣ Cd11c-cre⁺'"}}}},
        {"mark": {"type": "rule", "color": "black", "strokeWidth": 1.5},
         "encoding": {"y": {"field": "value", "type": "quantitative", "scale": {"domain": [0, 50], "nice": false, "range": [152, 26]}}, "y2": {"field": "hi"}}},
        {"mark": {"type": "tick", "color": "black", "thickness": 1.5, "size": 12, "opacity": 1},
         "encoding": {"y": {"field": "hi", "type": "quantitative", "scale": {"domain": [0, 50], "nice": false, "range": [152, 26]}}}}
      ]
    },
    {
      "width": 128, "height": 144,
      "layer": [
        {"data": {"values": [{}]}, "mark": {"type": "rect", "filled": false, "color": "#a3a3a3", "strokeWidth": 1},
         "encoding": {
           "x": {"datum": 1.18, "type": "quantitative", "scale": {"domain": [1.18, 5.47], "range": [-3, 115], "nice": false, "zero": false},
                 "axis": {"title": "T-bet", "values": [1.3, 1.4, 1.5, 1.63, 1.75, 1.85, 2, 2.301, 2.477, 2.602, 2.699, 2.778, 2.845, 2.903, 2.954, 3, 3.301, 3.477, 3.602, 3.699, 3.778, 3.845, 3.903, 3.954, 4, 4.301, 4.477, 4.602, 4.699, 4.778, 4.845, 4.903, 4.954, 5, 5.301], "tickCount": 100, "labelExpr": "datum.value == 1.63 ? '0' : datum.value == 2 ? '10²' : datum.value == 3 ? '10³' : datum.value == 4 ? '10⁴' : datum.value == 5 ? '10⁵' : ''", "domain": false, "tickSize": 2, "tickWidth": 0.6, "tickColor": "#555", "labelFontSize": 5.5, "labelFontWeight": "normal", "labelFont": "Liberation Sans", "labelColor": "#444", "labelPadding": 1, "labelOverlap": false, "labelFlush": false, "titleFontSize": 5, "titleFont": "Liberation Sans", "titlePadding": 1, "titleColor": "#444"}},
           "x2": {"datum": 5.47},
           "y": {"datum": -0.5, "type": "quantitative", "scale": {"domain": [-0.5, 106], "range": [144, 25], "nice": false, "zero": false},
                 "axis": {"title": null, "values": [0, 20, 40, 60, 80, 100], "tickCount": 50, "format": "d", "labelOverlap": false, "offset": 3, "domain": false, "tickSize": 2, "tickWidth": 0.6, "tickColor": "#555", "labelFontSize": 5.5, "labelFontWeight": "normal", "labelFont": "Liberation Sans", "labelColor": "#444", "labelPadding": 1}},
           "y2": {"datum": 106}}},
        {"data": {"name": "flow"}, "transform": [{"filter": "datum.panel == 'G7' && datum.group == 'iso'"}],
         "mark": {"type": "area", "color": "#c4c4c4", "interpolate": "monotone"},
         "encoding": {
           "x": {"field": "u", "type": "quantitative", "scale": {"domain": [1.18, 5.47], "range": [-3, 115], "nice": false, "zero": false}},
           "y": {"field": "y", "type": "quantitative", "scale": {"domain": [-0.5, 106], "range": [144, 25], "nice": false, "zero": false}}}},
        {"data": {"name": "flow"}, "transform": [{"filter": "datum.panel == 'G7' && datum.group != 'iso'"}],
         "mark": {"type": "line", "strokeWidth": 1, "interpolate": "monotone"},
         "encoding": {
           "x": {"field": "u", "type": "quantitative", "scale": {"domain": [1.18, 5.47], "range": [-3, 115], "nice": false, "zero": false}},
           "y": {"field": "y", "type": "quantitative", "scale": {"domain": [-0.5, 106], "range": [144, 25], "nice": false, "zero": false}},
           "stroke": {"field": "group", "type": "nominal", "scale": {"domain": ["cre+", "cre-"], "range": ["#4a44e6", "#f23030"]}, "legend": null}}},
        {"data": {"values": [{}]}, "mark": {"type": "rule", "color": "#111", "strokeWidth": 1},
         "encoding": {
           "x": {"datum": 0.333, "type": "quantitative", "scale": {"domain": [1.18, 5.47], "range": [-3, 115], "nice": false, "zero": false}},
           "y": {"datum": 12.9, "type": "quantitative", "scale": {"domain": [-0.5, 106], "range": [144, 25], "nice": false, "zero": false}},
           "y2": {"datum": 75}}},
        {"data": {"values": [{}]}, "mark": {"type": "rule", "color": "#111", "strokeWidth": 1},
         "encoding": {
           "x": {"datum": 0.515, "type": "quantitative", "scale": {"domain": [1.18, 5.47], "range": [-3, 115], "nice": false, "zero": false}},
           "x2": {"datum": 10.2},
           "y": {"datum": -17.5, "type": "quantitative", "scale": {"domain": [-0.5, 106], "range": [144, 25], "nice": false, "zero": false}}}},
        {"data": {"values": [{}]}, "mark": {"type": "point", "shape": "triangle-up", "filled": true, "color": "#111", "size": 28, "opacity": 1},
         "encoding": {
           "x": {"datum": 0.333, "type": "quantitative", "scale": {"domain": [1.18, 5.47], "range": [-3, 115], "nice": false, "zero": false}},
           "y": {"datum": 76.5, "type": "quantitative", "scale": {"domain": [-0.5, 106], "range": [144, 25], "nice": false, "zero": false}}}},
        {"data": {"values": [{}]}, "mark": {"type": "point", "shape": "triangle-right", "filled": true, "color": "#111", "size": 28, "opacity": 1},
         "encoding": {
           "x": {"datum": 10.3, "type": "quantitative", "scale": {"domain": [1.18, 5.47], "range": [-3, 115], "nice": false, "zero": false}},
           "y": {"datum": -17.5, "type": "quantitative", "scale": {"domain": [-0.5, 106], "range": [144, 25], "nice": false, "zero": false}}}},
        {"data": {"values": [{}]}, "mark": {"type": "text", "text": "Events", "angle": 270, "fontSize": 13, "align": "center", "baseline": "middle", "color": "#111"},
         "encoding": {
           "x": {"datum": -0.093, "type": "quantitative", "scale": {"domain": [1.18, 5.47], "range": [-3, 115], "nice": false, "zero": false}},
           "y": {"datum": 42.5, "type": "quantitative", "scale": {"domain": [-0.5, 106], "range": [144, 25], "nice": false, "zero": false}}}},
        {"data": {"values": [{}]}, "mark": {"type": "text", "text": "T-bet", "fontSize": 13, "align": "left", "baseline": "alphabetic", "color": "#111"},
         "encoding": {
           "x": {"datum": 0.707, "type": "quantitative", "scale": {"domain": [1.18, 5.47], "range": [-3, 115], "nice": false, "zero": false}},
           "y": {"datum": -34.5, "type": "quantitative", "scale": {"domain": [-0.5, 106], "range": [144, 25], "nice": false, "zero": false}}}},
        {"data": {"values": [{}]}, "mark": {"type": "text", "text": "G", "fontSize": 15, "align": "left", "baseline": "alphabetic", "color": "#111"},
         "encoding": {
           "x": {"datum": -0.275, "type": "quantitative", "scale": {"domain": [1.18, 5.47], "range": [-3, 115], "nice": false, "zero": false}},
           "y": {"datum": 140.9, "type": "quantitative", "scale": {"domain": [-0.5, 106], "range": [144, 25], "nice": false, "zero": false}}}},
        {"data": {"values": [{}]}, "mark": {"type": "text", "text": "d7pi", "fontSize": 13.5, "align": "center", "baseline": "alphabetic", "color": "#111"},
         "encoding": {
           "x": {"datum": 3.325, "type": "quantitative", "scale": {"domain": [1.18, 5.47], "range": [-3, 115], "nice": false, "zero": false}},
           "y": {"datum": 111.4, "type": "quantitative", "scale": {"domain": [-0.5, 106], "range": [144, 25], "nice": false, "zero": false}}}}
      ]
    },
    {
      "width": 111, "height": 144,
      "layer": [
        {"data": {"values": [{}]}, "mark": {"type": "rect", "filled": false, "color": "#a3a3a3", "strokeWidth": 1},
         "encoding": {
           "x": {"datum": 1.2, "type": "quantitative", "scale": {"domain": [1.2, 5.45], "range": [3, 120], "nice": false, "zero": false},
                 "axis": {"title": "<PE-A>", "values": [1.3, 1.4, 1.5, 1.65, 1.75, 1.85, 2, 2.301, 2.477, 2.602, 2.699, 2.778, 2.845, 2.903, 2.954, 3, 3.301, 3.477, 3.602, 3.699, 3.778, 3.845, 3.903, 3.954, 4, 4.301, 4.477, 4.602, 4.699, 4.778, 4.845, 4.903, 4.954, 5, 5.301], "tickCount": 100, "labelExpr": "datum.value == 1.65 ? '0' : datum.value == 2 ? '10²' : datum.value == 3 ? '10³' : datum.value == 4 ? '10⁴' : datum.value == 5 ? '10⁵' : ''", "domain": false, "tickSize": 2, "tickWidth": 0.6, "tickColor": "#555", "labelFontSize": 5.5, "labelFontWeight": "normal", "labelFont": "Liberation Sans", "labelColor": "#444", "labelPadding": 1, "labelOverlap": false, "labelFlush": false, "titleFontSize": 5, "titleFont": "Liberation Sans", "titlePadding": 1, "titleColor": "#444"}},
           "x2": {"datum": 5.45},
           "y": {"datum": -0.5, "type": "quantitative", "scale": {"domain": [-0.5, 106], "range": [144, 25], "nice": false, "zero": false},
                 "axis": {"title": null, "values": [0, 20, 40, 60, 80, 100], "tickCount": 50, "format": "d", "labelOverlap": false, "offset": -3, "domain": false, "tickSize": 2, "tickWidth": 0.6, "tickColor": "#555", "labelFontSize": 5.5, "labelFontWeight": "normal", "labelFont": "Liberation Sans", "labelColor": "#444", "labelPadding": 1}},
           "y2": {"datum": 106}}},
        {"data": {"name": "flow"}, "transform": [{"filter": "datum.panel == 'G14' && datum.group == 'iso'"}],
         "mark": {"type": "area", "color": "#c4c4c4", "interpolate": "monotone"},
         "encoding": {
           "x": {"field": "u", "type": "quantitative", "scale": {"domain": [1.2, 5.45], "range": [3, 120], "nice": false, "zero": false}},
           "y": {"field": "y", "type": "quantitative", "scale": {"domain": [-0.5, 106], "range": [144, 25], "nice": false, "zero": false}}}},
        {"data": {"name": "flow"}, "transform": [{"filter": "datum.panel == 'G14' && datum.group != 'iso'"}],
         "mark": {"type": "line", "strokeWidth": 1, "interpolate": "monotone"},
         "encoding": {
           "x": {"field": "u", "type": "quantitative", "scale": {"domain": [1.2, 5.45], "range": [3, 120], "nice": false, "zero": false}},
           "y": {"field": "y", "type": "quantitative", "scale": {"domain": [-0.5, 106], "range": [144, 25], "nice": false, "zero": false}},
           "stroke": {"field": "group", "type": "nominal", "scale": {"domain": ["cre+", "cre-"], "range": ["#4a44e6", "#f23030"]}, "legend": null}}},
        {"data": {"values": [{}]}, "mark": {"type": "text", "text": "d14pi", "fontSize": 13.5, "align": "center", "baseline": "alphabetic", "color": "#111"},
         "encoding": {
           "x": {"datum": 3.325, "type": "quantitative", "scale": {"domain": [1.2, 5.45], "range": [3, 120], "nice": false, "zero": false}},
           "y": {"datum": 111.4, "type": "quantitative", "scale": {"domain": [-0.5, 106], "range": [144, 25], "nice": false, "zero": false}}}},
        {"data": {"values": [{"k": "cre+"}, {"k": "cre-"}, {"k": "iso"}]}, "transform": [{"filter": "false"}],
         "mark": {"type": "square", "opacity": 1, "stroke": "#8596ac", "strokeWidth": 0.8},
         "encoding": {
           "fill": {"field": "k", "type": "nominal", "scale": {"domain": ["cre+", "cre-", "iso"], "range": ["#5b52e8", "#f01c1c", "#d6d9dd"]},
                    "legend": {"legendX": 143, "legendY": 9.3, "title": null, "symbolStrokeColor": "#8596ac", "symbolStrokeWidth": 0.8, "symbolSize": 110, "rowPadding": 6, "symbolOpacity": 1, "labelExpr": "datum.value == 'cre+' ? 'Hif-1αᶠˡᵒˣ/ᶠˡᵒˣ Cd11c-cre⁺' : datum.value == 'cre-' ? 'Hif-1αᶠˡᵒˣ/ᶠˡᵒˣ Cd11c-cre⁻' : 'Isotype'"}}}}
      ]
    },
    {"width": 1, "height": 1, "data": {"values": []}, "mark": "point"},
    {
      "width": 248, "height": 123,
      "title": {"text": "H", "dx": -63, "dy": -2},
      "data": {"name": "bars"},
      "transform": [{"filter": "datum.panel == 'H'"}],
      "encoding": {
        "x": {"field": "day", "type": "nominal", "sort": ["d7pi", "d14pi"], "title": null, "scale": {"range": [1, 164], "paddingInner": 0.36, "paddingOuter": 0.19}},
        "xOffset": {"field": "group", "type": "nominal", "sort": ["cre-", "cre+"], "scale": {"paddingInner": 0.27, "paddingOuter": 0}}
      },
      "layer": [
        {"mark": {"type": "bar", "stroke": "black", "strokeWidth": 1.5, "opacity": 1},
         "encoding": {
           "y": {"field": "value", "type": "quantitative", "stack": null, "scale": {"domain": [0, 80], "nice": false}, "axis": {"title": "% of OT-I CD8 T cells GranzymeB⁺", "values": [0, 20, 40, 60, 80], "tickCount": 50, "format": "d", "labelOverlap": false, "offset": -1}},
           "color": {"field": "group", "type": "nominal", "scale": {"domain": ["cre-", "cre+"], "range": ["black", "white"]},
                     "legend": {"legendX": 93, "legendY": 0, "title": null, "symbolStrokeColor": "black", "symbolStrokeWidth": 1.3, "labelExpr": "datum.value == 'cre-' ? 'Hif-1αᶠˡᵒˣ/ᶠˡᵒˣ Cd11c-cre⁻' : 'Hif-1αᶠˡᵒˣ/ᶠˡᵒˣ Cd11c-cre⁺'"}}}},
        {"mark": {"type": "rule", "color": "black", "strokeWidth": 1.5},
         "encoding": {"y": {"field": "value", "type": "quantitative", "scale": {"domain": [0, 80], "nice": false}}, "y2": {"field": "hi"}}},
        {"mark": {"type": "tick", "color": "black", "thickness": 1.5, "size": 12, "opacity": 1},
         "encoding": {"y": {"field": "hi", "type": "quantitative", "scale": {"domain": [0, 80], "nice": false}}}},
        {"mark": {"type": "text", "baseline": "bottom", "dy": -1, "fontSize": 13, "color": "#555"},
         "encoding": {"y": {"field": "hi", "type": "quantitative", "scale": {"domain": [0, 80], "nice": false}}, "text": {"field": "sig"}}}
      ]
    }
  ]
}
